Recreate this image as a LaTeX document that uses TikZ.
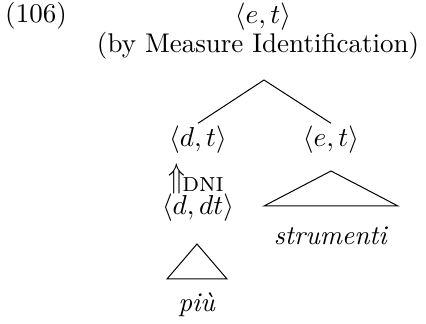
\documentclass[tikz,border=0pt]{standalone}
\usepackage{amsmath, amssymb}
\usepackage{graphicx}
\usepackage{tikz}
\usetikzlibrary{positioning}

\begin{document}
\begin{tikzpicture}[x=0.4pt, y=-0.4pt, font=\fontsize{10.8}{13}\selectfont,
    label/.style={inner sep=1pt},
    roof/.style={line width=0.4pt, line join=miter}]
    \useasboundingbox (0,0) rectangle (426,324);
    \node[label] (ex) at (36,16) {(106)};
    \node[label] (root) at (263,17) {$\langle e, t\rangle$};
    \node[label] (rule) at (258,46) {(by Measure Identification)};
    \coordinate (apex) at (264,80);
    \node[label] (dt) at (198,140) {$\langle d, t\rangle$};
    \node[label] (et) at (331,140) {$\langle e, t\rangle$};
    \draw[roof] (apex) -- (dt.north);
    \draw[roof] (apex) -- (et.north);
    \node[label, inner sep=0pt] (shift) at (196,179) {\scalebox{1}[1.25]{$\Uparrow$}\kern-1pt\raisebox{-0.35ex}{\textsc{dni}}};
    \node[label] (ddt) at (198,208) {$\langle d, dt\rangle$};
    % roofs over the lexical items
    \coordinate (piutop) at (197,244);
    \node[label] (piu) at (197,305) {\textit{più}};
    \draw[roof] (piutop) -- (167,279) -- (227,279) -- cycle;
    \coordinate (strtop) at (331,171);
    \node[label] (str) at (331,236) {\textit{strumenti}};
    \draw[roof] (strtop) -- (264,206) -- (398,206) -- cycle;
\end{tikzpicture}
\end{document}
